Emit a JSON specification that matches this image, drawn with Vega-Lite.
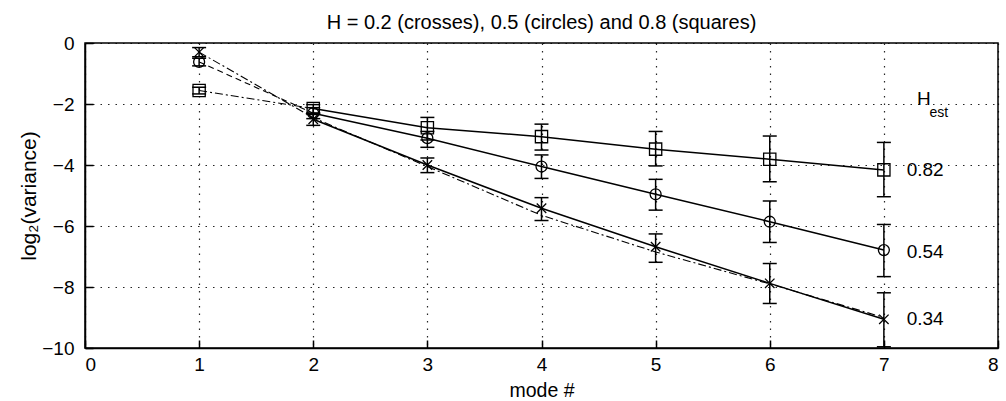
{
  "$schema": "https://vega.github.io/schema/vega-lite/v6.json",
  "width": 913,
  "height": 305,
  "autosize": "none",
  "padding": {"left": 85, "top": 43, "right": 8, "bottom": 53},
  "background": "white",
  "config": {
    "font": "Liberation Sans",
    "view": {"stroke": "black", "strokeWidth": 1.5},
    "axis": {
      "domainColor": "black",
      "domainWidth": 1.5,
      "tickColor": "black",
      "tickWidth": 1.5,
      "tickSize": -8,
      "labelColor": "black",
      "labelFontSize": 19,
      "labelFont": "Liberation Sans",
      "titleColor": "black",
      "titleFontSize": 19.5,
      "titleFontWeight": "normal",
      "titleFont": "Liberation Sans",
      "grid": true,
      "gridColor": "black",
      "gridDash": [1.5, 6],
      "gridWidth": 1.2,
      "gridOpacity": 0.85
    }
  },
  "title": {
    "text": "H = 0.2 (crosses), 0.5 (circles) and 0.8 (squares)",
    "fontSize": 20,
    "fontWeight": "normal",
    "font": "Liberation Sans",
    "color": "black",
    "anchor": "middle",
    "offset": 1
  },
  "datasets": {
    "pts": [
      {"series": "crosses", "mode": 1, "v": -0.3, "top": -0.15, "bot": -0.45},
      {"series": "crosses", "mode": 2, "v": -2.5, "top": -2.3, "bot": -2.7},
      {"series": "crosses", "mode": 3, "v": -4.0, "top": -3.77, "bot": -4.25},
      {"series": "crosses", "mode": 4, "v": -5.42, "top": -5.07, "bot": -5.82},
      {"series": "crosses", "mode": 5, "v": -6.68, "top": -6.26, "bot": -7.19},
      {"series": "crosses", "mode": 6, "v": -7.88, "top": -7.23, "bot": -8.54},
      {"series": "crosses", "mode": 7, "v": -9.06, "top": -8.19, "bot": -9.96},
      {"series": "circles", "mode": 1, "v": -0.62, "top": -0.5, "bot": -0.75},
      {"series": "circles", "mode": 2, "v": -2.3, "top": -2.12, "bot": -2.48},
      {"series": "circles", "mode": 3, "v": -3.12, "top": -2.9, "bot": -3.42},
      {"series": "circles", "mode": 4, "v": -4.05, "top": -3.67, "bot": -4.44},
      {"series": "circles", "mode": 5, "v": -4.96, "top": -4.47, "bot": -5.48},
      {"series": "circles", "mode": 6, "v": -5.86, "top": -5.18, "bot": -6.54},
      {"series": "circles", "mode": 7, "v": -6.79, "top": -5.95, "bot": -7.66},
      {"series": "squares", "mode": 1, "v": -1.56, "top": -1.45, "bot": -1.67},
      {"series": "squares", "mode": 2, "v": -2.15, "top": -2.02, "bot": -2.3},
      {"series": "squares", "mode": 3, "v": -2.78, "top": -2.44, "bot": -3.18},
      {"series": "squares", "mode": 4, "v": -3.07, "top": -2.66, "bot": -3.51},
      {"series": "squares", "mode": 5, "v": -3.48, "top": -2.9, "bot": -4.03},
      {"series": "squares", "mode": 6, "v": -3.81, "top": -3.05, "bot": -4.55},
      {"series": "squares", "mode": 7, "v": -4.16, "top": -3.26, "bot": -5.04}
    ],
    "guide": [
      {"series": "crosses", "mode": 1, "v": -0.3},
      {"series": "crosses", "mode": 2, "v": -2.45},
      {"series": "crosses", "mode": 3, "v": -4.05},
      {"series": "crosses", "mode": 4, "v": -5.65},
      {"series": "crosses", "mode": 5, "v": -6.85},
      {"series": "crosses", "mode": 6, "v": -7.9},
      {"series": "crosses", "mode": 7, "v": -9.0},
      {"series": "circles", "mode": 1, "v": -0.62},
      {"series": "circles", "mode": 2, "v": -2.3},
      {"series": "squares", "mode": 1, "v": -1.56},
      {"series": "squares", "mode": 2, "v": -2.15}
    ],
    "notes": [
      {"label": "0.82", "mode": 7.2, "v": -4.16, "size": 19},
      {"label": "0.54", "mode": 7.2, "v": -6.85, "size": 19},
      {"label": "0.34", "mode": 7.2, "v": -9.05, "size": 19},
      {"label": "H", "mode": 7.29, "v": -1.85, "size": 19},
      {"label": "est", "mode": 7.4, "v": -2.3, "size": 14}
    ],
    "xticks": [{"mode": 1}, {"mode": 2}, {"mode": 3}, {"mode": 4}, {"mode": 5}, {"mode": 6}, {"mode": 7}],
    "yticks": [{"v": -2}, {"v": -4}, {"v": -6}, {"v": -8}]
  },
  "encoding": {
    "x": {
      "field": "mode",
      "type": "quantitative",
      "scale": {"domain": [0, 8], "nice": false, "zero": false},
      "axis": {"title": "mode #", "values": [0, 1, 2, 3, 4, 5, 6, 7, 8], "format": "d", "labelPadding": 15, "titlePadding": 7}
    },
    "y": {
      "field": "v",
      "type": "quantitative",
      "scale": {"domain": [-10, 0], "nice": false, "zero": false},
      "axis": {"title": "log₂(variance)", "titleFontSize": 21, "values": [0, -2, -4, -6, -8, -10], "format": "d", "labelPadding": 19, "titlePadding": 2}
    }
  },
  "layer": [
    {
      "data": {"name": "guide"},
      "mark": {"type": "line", "color": "black", "strokeWidth": 1.1},
      "encoding": {
        "detail": {"field": "series", "type": "nominal"},
        "strokeDash": {
          "field": "series",
          "type": "nominal",
          "scale": {"domain": ["crosses", "circles", "squares"], "range": [[8, 3, 2, 3], [6, 4], [8, 3, 2, 3]]},
          "legend": null
        }
      }
    },
    {
      "data": {"name": "pts"},
      "transform": [{"filter": "datum.mode >= 2"}],
      "mark": {"type": "line", "color": "black", "strokeWidth": 1.5},
      "encoding": {"detail": {"field": "series", "type": "nominal"}}
    },
    {
      "data": {"name": "xticks"},
      "mark": {"type": "tick", "color": "black", "orient": "vertical", "size": 16, "thickness": 1.5, "opacity": 1, "clip": true},
      "encoding": {"y": {"datum": 0}}
    },
    {
      "data": {"name": "yticks"},
      "mark": {"type": "tick", "color": "black", "orient": "horizontal", "size": 16, "thickness": 1.5, "opacity": 1, "clip": true},
      "encoding": {"x": {"datum": 8}}
    },
    {
      "data": {"name": "pts"},
      "mark": {"type": "rule", "color": "black", "strokeWidth": 1.5},
      "encoding": {"y": {"field": "top", "type": "quantitative"}, "y2": {"field": "bot"}}
    },
    {
      "data": {"name": "pts"},
      "mark": {"type": "tick", "color": "black", "orient": "horizontal", "size": 14, "thickness": 1.5, "opacity": 1},
      "encoding": {"y": {"field": "top", "type": "quantitative"}}
    },
    {
      "data": {"name": "pts"},
      "mark": {"type": "tick", "color": "black", "orient": "horizontal", "size": 14, "thickness": 1.5, "opacity": 1},
      "encoding": {"y": {"field": "bot", "type": "quantitative"}}
    },
    {
      "data": {"name": "pts"},
      "mark": {"type": "point", "filled": false, "stroke": "black", "strokeWidth": 1.3, "opacity": 1},
      "encoding": {
        "shape": {
          "field": "series",
          "type": "nominal",
          "scale": {"domain": ["crosses", "circles", "squares"], "range": ["M-1,-1L1,1M-1,1L1,-1", "circle", "square"]},
          "legend": null
        },
        "size": {
          "field": "series",
          "type": "nominal",
          "scale": {"domain": ["crosses", "circles", "squares"], "range": [90, 150, 110]},
          "legend": null
        }
      }
    },
    {
      "data": {"name": "notes"},
      "mark": {"type": "text", "color": "black", "align": "left", "baseline": "middle", "font": "Liberation Sans"},
      "encoding": {
        "text": {"field": "label", "type": "nominal"},
        "size": {"field": "size", "type": "quantitative", "scale": null}
      }
    }
  ]
}
